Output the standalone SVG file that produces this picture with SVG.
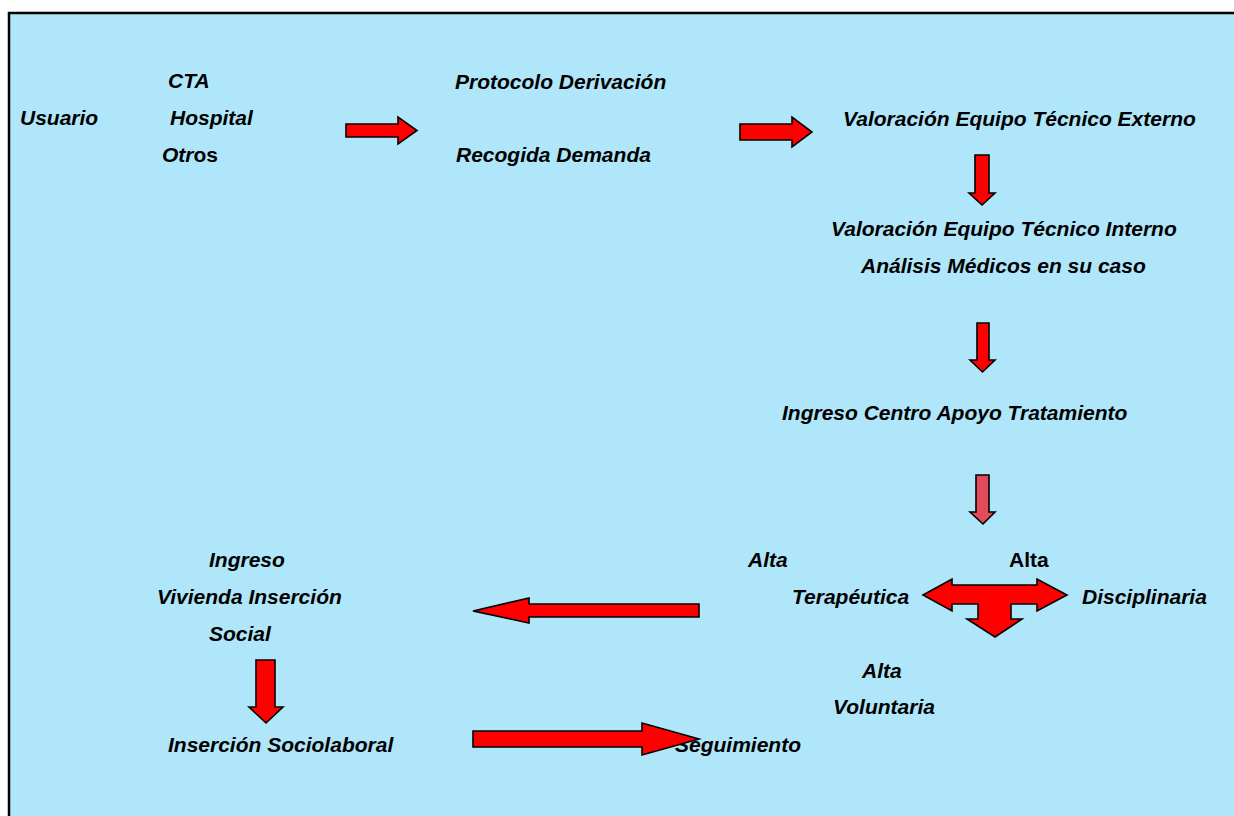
<svg xmlns="http://www.w3.org/2000/svg" width="1234" height="816" viewBox="0 0 1234 816">
<style>
text{font-family:"Liberation Sans",Arial,sans-serif;font-size:21px;font-weight:bold;font-style:italic;fill:#000}
.up{font-style:normal}
.arr{fill:#FF0000;stroke:#000;stroke-width:1.6;stroke-linejoin:miter}
.arr2{fill:#E44B5A;stroke:#000;stroke-width:1.6}
</style>
<rect x="0" y="0" width="1234" height="816" fill="#FFFFFF"/>
<rect x="9" y="13" width="1240" height="820" fill="#B0E6FA" stroke="#000" stroke-width="2.5"/>
<g id="usuario"><text x="20" y="125">Usuario</text></g>
<g id="origen"><text x="168" y="88">CTA</text><text x="170" y="125">Hospital</text><text x="162" y="162">Otr<tspan class="up">os</tspan></text></g>
<g id="protocolo"><text x="455" y="89">Protocolo Derivación</text><text x="456" y="162">Recogida Demanda</text></g>
<g id="valoracion-externo"><text x="843" y="126">Valoración Equipo Técnico Externo</text></g>
<g id="valoracion-interno"><text x="831" y="236">Valoración Equipo Técnico Interno</text><text x="861" y="273">Análisis Médicos en su caso</text></g>
<g id="ingreso-centro"><text x="782" y="420">Ingreso Centro Apoyo Tratamiento</text></g>
<g id="alta-terapeutica"><text x="748" y="567">Alta</text><text x="792" y="604">Terapéutica</text></g>
<g id="alta-disciplinaria"><text class="up" x="1009" y="567">Alta</text><text x="1082" y="604">Disciplinaria</text></g>
<g id="alta-voluntaria"><text x="862" y="678">Alta</text><text x="833" y="714">Voluntaria</text></g>
<g id="vivienda"><text x="209" y="567">Ingreso</text><text x="157" y="604">Vivienda Inserción</text><text x="209" y="641">Social</text></g>
<g id="insercion"><text x="168" y="752">Inserción Sociolaboral</text></g>
<g id="seguimiento"><text x="675" y="752">Seguimiento</text></g>
<g id="connectors">
<polygon class="arr" points="346,124 398,124 398,117 417,130.5 398,144 398,137 346,137"/>
<polygon class="arr" points="740,124 792,124 792,117 812,132 792,147 792,140 740,140"/>
<polygon class="arr" points="975,155 989,155 989,193 995,193 982,205 969,193 975,193"/>
<polygon class="arr" points="977,323 989,323 989,360 995,360 982.5,372 970,360 977,360"/>
<polygon class="arr2" points="976,475 989,475 989,512 995,512 983,524 970,512 976,512"/>
<polygon class="arr" points="923,595 952,579 952,585 1037,585 1037,579 1067,595 1037,611 1037,604 1011,604 1011,619 1022,619 995,637 967,619 978,619 978,604 952,604 952,611"/>
<polygon class="arr" points="699,604 529,604 529,598 473,611 529,623 529,617 699,617"/>
<polygon class="arr" points="256,660 275,660 275,707 283,707 266,723 249,707 256,707"/>
<polygon class="arr" points="473,731 642,731 642,723 699,739 642,755 642,747 473,747"/>
</g>
</svg>
